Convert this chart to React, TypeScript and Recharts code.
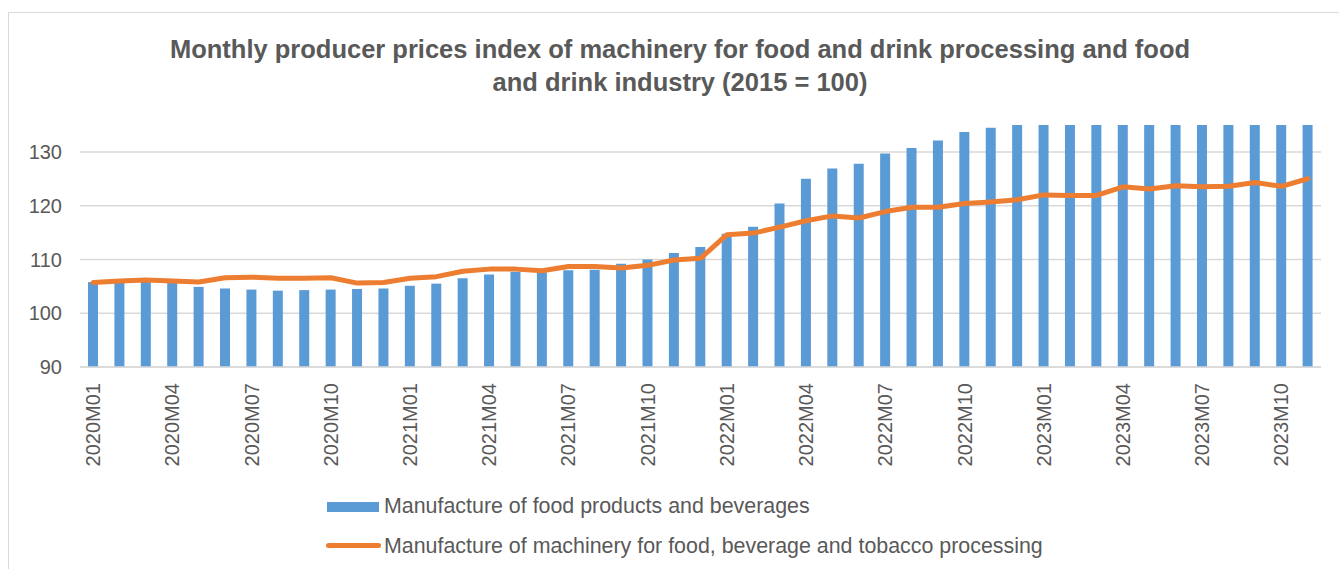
import React from 'react';
import { ComposedChart, Bar, Line, XAxis, YAxis, CartesianGrid } from 'recharts';

const months = [
  '2020M01', '2020M02', '2020M03', '2020M04', '2020M05', '2020M06', '2020M07', '2020M08', '2020M09', '2020M10', '2020M11', '2020M12',
  '2021M01', '2021M02', '2021M03', '2021M04', '2021M05', '2021M06', '2021M07', '2021M08', '2021M09', '2021M10', '2021M11', '2021M12',
  '2022M01', '2022M02', '2022M03', '2022M04', '2022M05', '2022M06', '2022M07', '2022M08', '2022M09', '2022M10', '2022M11', '2022M12',
  '2023M01', '2023M02', '2023M03', '2023M04', '2023M05', '2023M06', '2023M07', '2023M08', '2023M09', '2023M10', '2023M11'
];

// food products and beverages (bars)
const foodBeverages = [
  105.8, 105.8, 106.0, 105.8, 104.9, 104.6, 104.4, 104.2, 104.3, 104.4, 104.5, 104.6,
  105.1, 105.5, 106.5, 107.2, 107.7, 107.6, 108.0, 108.1, 109.2, 110.0, 111.2, 112.3,
  114.8, 116.1, 120.4, 125.0, 126.9, 127.8, 129.7, 130.7, 132.1, 133.7, 134.5, 135.0,
  135.6, 135.7, 135.8, 135.9, 136.0, 136.0, 136.1, 136.1, 136.2, 136.2, 136.3
];

// machinery for food, beverage and tobacco processing (line)
const machinery = [
  105.7, 106.0, 106.2, 106.0, 105.8, 106.6, 106.7, 106.5, 106.5, 106.6, 105.6, 105.7,
  106.5, 106.8, 107.8, 108.2, 108.2, 107.9, 108.7, 108.7, 108.4, 108.9, 109.9, 110.2,
  114.6, 114.9, 116.0, 117.2, 118.1, 117.7, 118.9, 119.7, 119.7, 120.4, 120.7, 121.1,
  122.0, 121.9, 121.9, 123.5, 123.1, 123.7, 123.5, 123.6, 124.3, 123.6, 125.0
];

const yTicks = [90, 100, 110, 120, 130];

const data = months.map((m, i) => ({ month: m, food: foodBeverages[i], machinery: machinery[i] }));

const textColor = '#595959';
const font = '"Liberation Sans", Arial, sans-serif';

function MonthTick(props: any) {
  const { x, y, payload } = props;
  return (
    <g transform={`translate(${x},${y})`}>
      <text
        transform="rotate(-90)"
        x={-16}
        dy="0.35em"
        textAnchor="end"
        fill={textColor}
        fontSize={20}
        fontFamily={font}
      >
        {payload.value}
      </text>
    </g>
  );
}

// skip the line drawn along the top edge of the plot (no 135 tick in the original)
function GridLine(props: any) {
  const { x1, y1, x2, y2, y, index } = props;
  if (typeof y === 'number' && Math.abs(y1 - y) < 1) return <g key={`skip-${index}`} />;
  return <line key={`h-${index}`} x1={x1} y1={y1} x2={x2} y2={y2} stroke="#d9d9d9" strokeWidth={1.5} />;
}

export default function App() {
  return (
    <div style={{ position: 'fixed', left: 0, top: 0, width: 1339, height: 569, overflow: 'hidden', background: '#fff', fontFamily: font }}>
      <div style={{ position: 'absolute', left: 8, top: 12, width: 1360, height: 600, border: '1.5px solid #d9d9d9', boxSizing: 'border-box' }} />
      <div style={{ position: 'absolute', left: 0, top: 33, width: 1360, textAlign: 'center', fontWeight: 'bold', fontSize: 25.5, lineHeight: '33px', color: textColor }}>
        Monthly producer prices index of machinery for food and drink processing and food
        <br />
        and drink industry (2015 = 100)
      </div>
      <div style={{ position: 'absolute', left: 0, top: 0 }}>
        <ComposedChart width={1339} height={569} data={data} margin={{ top: 125, right: 18, bottom: 92, left: 20 }}>
          <CartesianGrid vertical={false} stroke="#d9d9d9" strokeWidth={1.5} horizontal={GridLine} />
          <XAxis
            dataKey="month"
            interval={2}
            height={110}
            tickLine={false}
            tickSize={0}
            tickMargin={0}
            axisLine={{ stroke: '#d9d9d9', strokeWidth: 1.5 }}
            tick={<MonthTick />}
          />
          <YAxis
            width={60}
            domain={[90, 135]}
            ticks={yTicks}
            allowDataOverflow
            axisLine={false}
            tickLine={false}
            tickSize={0}
            tickMargin={18}
            tick={{ fill: textColor, fontSize: 20, fontFamily: font }}
          />
          <Bar dataKey="food" fill="#5b9bd5" barSize={10} isAnimationActive={false} />
          <Line
            dataKey="machinery"
            type="linear"
            stroke="#ed7d31"
            strokeWidth={5}
            strokeLinecap="round"
            strokeLinejoin="round"
            dot={false}
            activeDot={false}
            isAnimationActive={false}
          />
        </ComposedChart>
      </div>
      <div style={{ position: 'absolute', left: 327, top: 502, width: 52, height: 10, background: '#5b9bd5' }} />
      <div style={{ position: 'absolute', left: 384, top: 494, fontSize: 21.4, color: textColor, whiteSpace: 'nowrap' }}>
        Manufacture of food products and beverages
      </div>
      <div style={{ position: 'absolute', left: 326, top: 543, width: 55, height: 5, borderRadius: 3, background: '#ed7d31' }} />
      <div style={{ position: 'absolute', left: 384, top: 534, fontSize: 21.4, color: textColor, whiteSpace: 'nowrap' }}>
        Manufacture of machinery for food, beverage and tobacco processing
      </div>
    </div>
  );
}
